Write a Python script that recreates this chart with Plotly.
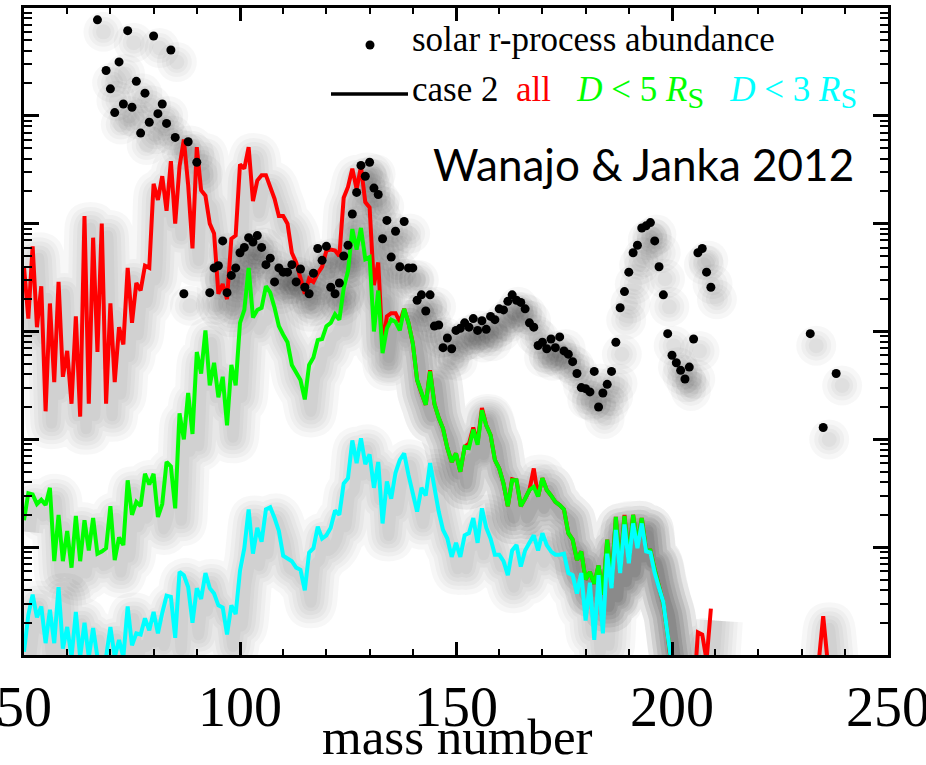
import numpy as np
import plotly.graph_objects as go

# ---------------- data (log10 of abundance / mass fraction) ----------------
A_red = list(range(50, 237))
red_log = [
    -5.40, -5.88, -5.21, -5.96, -5.58, -6.74, -5.74, -6.47, -5.54, -6.42,   # 50-59
    -6.18, -6.67, -5.86, -6.79, -4.93, -6.67, -5.13, -6.19, -5.00, -6.67,   # 60-69
    -5.74, -6.47, -5.96, -6.12, -5.41, -5.92, -5.55, -5.62, -5.39, -5.41,   # 70-79
    -4.63, -4.78, -4.56, -4.88, -4.42, -5.00, -4.47, -4.22, -4.64, -5.23,   # 80-89
    -4.29, -4.69, -4.74, -5.00, -5.09, -5.65, -5.56, -5.70, -5.14, -5.11,   # 90-99
    -4.45, -4.49, -4.29, -4.79, -4.60, -4.55, -4.55, -4.66, -4.77, -4.93,   # 100-109
    -4.93, -5.00, -5.27, -5.36, -5.49, -5.65, -5.51, -5.54, -5.46, -5.40,   # 110-119
    -5.25, -5.24, -5.25, -5.30, -4.76, -4.66, -4.49, -4.68, -4.47, -4.80,   # 120-129
    -4.85, -5.57, -5.36, -6.13, -5.86, -5.83, -5.83, -5.91, -5.79, -5.92,   # 130-139
    -6.11, -6.45, -6.57, -6.68, -6.36, -6.67, -6.80, -6.90, -7.08, -7.21,   # 140-149
    -7.13, -7.30, -7.07, -7.04, -6.89, -7.03, -6.71, -6.87, -6.96, -7.19,   # 150-159
    -7.27, -7.41, -7.62, -7.37, -7.38, -7.62, -7.55, -7.47, -7.27, -7.53,   # 160-169
    -7.36, -7.47, -7.52, -7.58, -7.61, -7.65, -7.87, -7.93, -8.12, -8.04,   # 170-179
    -8.30, -8.23, -8.34, -8.17, -8.44, -7.93, -8.35, -7.72, -8.21, -7.70,   # 180-189
    -8.12, -7.70, -7.98, -7.73, -8.03, -8.03, -8.21, -8.38, -8.52, -8.81,   # 190-199
    -9.10, -9.50, -9.50, -9.50, -9.50, -9.40, -8.79, -8.81, -9.05, -8.57,   # 200-209
    None, None, None, None, None, None, None, None, None, None,             # 210-219
    None, None, None, None, None, None, None, None, None, None,             # 220-229
    None, None, None, None, -9.05, -8.64, -9.05,                            # 230-236
]

A_green = list(range(50, 201))
green_log = [
    -7.75, -7.50, -7.51, -7.60, -7.56, -7.61, -7.45, -8.13, -7.70, -8.13,   # 50-59
    -7.85, -8.19, -7.71, -8.13, -7.75, -8.03, -7.73, -8.06, -8.04, -8.01,   # 60-69
    -7.62, -8.12, -7.91, -7.98, -7.38, -7.70, -7.58, -7.62, -7.32, -7.42,   # 70-79
    -7.32, -7.72, -7.60, -7.21, -7.25, -7.64, -6.76, -7.00, -6.57, -6.95,   # 80-89
    -6.19, -6.39, -5.99, -6.50, -6.29, -6.61, -6.42, -6.87, -6.31, -6.50,   # 90-99
    -5.92, -5.80, -5.41, -5.87, -5.80, -5.78, -5.58, -5.64, -5.78, -5.95,   # 100-109
    -6.03, -6.10, -6.31, -6.39, -6.45, -6.63, -6.31, -6.24, -6.08, -6.07,   # 110-119
    -5.95, -5.92, -5.84, -5.89, -5.60, -5.44, -5.05, -5.24, -5.04, -5.33,   # 120-129
    -5.31, -6.00, -5.62, -6.20, -5.97, -5.89, -5.91, -5.99, -5.79, -5.92,   # 130-139
    -6.11, -6.45, -6.57, -6.68, -6.37, -6.67, -6.80, -6.90, -7.08, -7.21,   # 140-149
    -7.13, -7.30, -7.07, -7.08, -6.91, -7.05, -6.73, -6.87, -6.96, -7.19,   # 150-159
    -7.27, -7.41, -7.62, -7.38, -7.38, -7.62, -7.55, -7.47, -7.44, -7.53,   # 160-169
    -7.36, -7.47, -7.52, -7.58, -7.61, -7.65, -7.87, -7.93, -8.12, -8.04,   # 170-179
    -8.30, -8.23, -8.34, -8.17, -8.44, -7.93, -8.35, -7.72, -8.21, -7.71,   # 180-189
    -8.12, -7.70, -7.98, -7.73, -8.03, -8.03, -8.21, -8.38, -8.52, -8.81,   # 190-199
    -9.10,                                                                  # 200
]

A_cyan = list(range(50, 201))
cyan_log = [
    -8.97, -8.63, -8.44, -8.65, -8.55, -8.89, -8.58, -8.89, -8.37, -8.94,   # 50-59
    -8.74, -9.02, -8.60, -9.02, -8.70, -9.02, -8.75, -9.02, -9.05, -9.02,   # 60-69
    -8.74, -9.02, -8.86, -9.02, -8.55, -8.91, -8.80, -8.81, -8.66, -8.77,   # 70-79
    -8.60, -8.80, -8.61, -8.45, -8.46, -8.84, -8.23, -8.26, -8.37, -8.70,   # 80-89
    -8.38, -8.48, -8.24, -8.38, -8.43, -8.54, -8.56, -8.81, -8.54, -8.62,   # 90-99
    -8.22, -8.01, -7.65, -8.06, -7.82, -7.95, -7.65, -7.63, -7.73, -7.85,   # 100-109
    -8.08, -8.11, -8.13, -8.19, -8.21, -8.40, -8.05, -8.01, -7.81, -7.92,   # 110-119
    -7.89, -7.82, -7.66, -7.70, -7.41, -7.36, -7.01, -7.22, -6.99, -7.23,   # 120-129
    -7.14, -7.45, -7.21, -7.78, -7.39, -7.55, -7.31, -7.19, -7.13, -7.33,   # 130-139
    -7.50, -7.67, -7.45, -7.52, -7.22, -7.47, -7.67, -7.84, -7.92, -8.09,   # 140-149
    -7.96, -8.09, -7.89, -7.87, -7.73, -7.96, -7.64, -7.82, -7.92, -8.07,   # 150-159
    -8.07, -8.13, -8.26, -8.03, -7.98, -8.18, -8.03, -7.96, -7.89, -8.03,   # 160-169
    -7.87, -7.98, -8.04, -8.07, -8.07, -8.06, -8.24, -8.26, -8.43, -8.24,   # 170-179
    -8.68, -8.33, -8.86, -8.26, -8.80, -8.06, -8.38, -7.84, -8.24, -7.79,   # 180-189
    -8.15, -7.78, -8.01, -7.78, -8.04, -8.05, -8.24, -8.38, -8.51, -8.81,   # 190-199
    -9.10,                                                                  # 200
]

solar_A = [
    67, 69, 70, 71, 72, 73, 74, 75, 76, 77, 78, 79, 80, 81, 82, 83, 84, 85, 87, 88, 90,
    93, 94, 95, 96, 97, 98, 99,
    100, 101, 102, 103, 104, 105, 106, 107, 108, 109,
    110, 111, 112, 113, 114, 115, 116, 117, 118, 119,
    120, 121, 122, 123, 124, 125, 126, 127, 128, 129,
    130, 131, 132, 133, 134, 135, 136, 137, 138, 139,
    140, 141, 142, 143, 144, 145, 146, 147, 148, 149,
    150, 151, 152, 153, 154, 155, 156, 157, 158, 159,
    160, 161, 162, 163, 164, 165, 166, 167, 168, 169,
    170, 171, 172, 173, 174, 175, 176, 177, 178, 179,
    180, 181, 182, 183, 184, 185, 186, 187, 188, 189,
    190, 191, 192, 193, 194, 195, 196, 197, 198, 199,
    200, 201, 202, 203, 204, 205, 206, 207, 208, 209,
    232, 235, 238,
]
solar_log = [
    -3.11, -3.58, -3.75, -3.97, -3.50, -3.89, -3.21, -3.92, -3.68, -4.16, -3.79, -4.06,
    -3.26, -3.98, -3.89, -4.07, -3.39, -4.20, -5.65, -4.24, -4.43,
    -5.64, -5.41, -5.39, -5.16, -5.64, -5.48, -5.41,
    -5.27, -5.22, -5.13, -5.17, -5.11, -5.22, -5.38, -5.32, -5.54, -5.41,
    -5.45, -5.45, -5.38, -5.54, -5.42, -5.59, -5.65, -5.46, -5.23, -5.34,
    -5.21, -5.59, -5.65, -5.55, -5.30, -5.20, -4.91, -4.71, -4.46, -4.56,
    -4.43, -4.67, -4.73, -5.14, -4.97, -5.31, -5.07, -5.40, -4.98, -5.41,
    -5.41, -5.71, -5.66, -5.81, -5.66, -5.95, -5.94, -6.15, -6.06, -6.16,
    -5.99, -5.97, -5.92, -5.96, -5.88, -5.99, -5.90, -5.98, -5.86, -5.89,
    -5.79, -5.80, -5.72, -5.66, -5.71, -5.73, -5.79, -5.92, -5.96, -6.13,
    -6.10, -6.16, -6.07, -6.15, -6.05, -6.18, -6.21, -6.28, -6.39, -6.52,
    -6.53, -6.56, -6.37, -6.70, -6.57, -6.49, -6.37, -6.10, -5.78, -5.63,
    -5.45, -5.27, -5.20, -5.04, -5.02, -4.99, -5.16, -5.40, -5.66, -6.02,
    -6.22, -6.29, -6.36, -6.44, -6.33, -6.07, -5.27, -5.23, -5.45, -5.59,
    -6.02, -6.89, -6.39,
]

x_ticks = [50, 100, 150, 200, 250]
x_range = [50, 250]
log_range = [-9, -3]


def to_abund(vals):
    arr = np.array([np.nan if v is None else v for v in vals], dtype=float)
    return np.power(10.0, arr)


RED = "#ff0000"
GREEN = "#00ff00"
CYAN = "#00ffff"
SERIF = "Liberation Serif, Times New Roman, serif"

fig = go.Figure()

# soft drop shadow: same data on a hidden base axis pair whose ranges are shifted
# a little, so the halo sits slightly right of and below the visible curves
SH = "rgba(0,0,0,0.03)"
series = [(A_red, red_log), (A_green, green_log), (A_cyan, cyan_log)]
for xs, ys in series:
    for w in (52, 42, 34, 26, 18, 11):
        fig.add_trace(go.Scatter(x=xs, y=to_abund(ys), mode="lines",
                                 line=dict(color=SH, width=w, shape="spline", smoothing=0.6),
                                 hoverinfo="skip", showlegend=False, xaxis="x", yaxis="y"))
for s in (40, 30, 22, 15):
    fig.add_trace(go.Scatter(x=solar_A, y=to_abund(solar_log), mode="markers",
                             marker=dict(color=SH, size=s, line=dict(width=0)),
                             hoverinfo="skip", showlegend=False, xaxis="x", yaxis="y"))

# real curves on the visible axes
fig.add_trace(go.Scatter(x=A_red, y=to_abund(red_log), mode="lines",
                         line=dict(color=RED, width=4), name="all",
                         connectgaps=False, showlegend=False, xaxis="x2", yaxis="y2"))
fig.add_trace(go.Scatter(x=A_green, y=to_abund(green_log), mode="lines",
                         line=dict(color=GREEN, width=4), name="D < 5 R_S",
                         showlegend=False, xaxis="x2", yaxis="y2"))
fig.add_trace(go.Scatter(x=A_cyan, y=to_abund(cyan_log), mode="lines",
                         line=dict(color=CYAN, width=4), name="D < 3 R_S",
                         showlegend=False, xaxis="x2", yaxis="y2"))
fig.add_trace(go.Scatter(x=solar_A, y=to_abund(solar_log), mode="markers",
                         marker=dict(color="black", size=9), name="solar r-process abundance",
                         showlegend=False, xaxis="x2", yaxis="y2"))

# ---------------- layout ----------------
L, R, T, B = 24, 38, 8, 110
W, H = 926, 765
pw, ph = W - L - R, H - T - B


def px_x(x):
    return (x - L) / pw


def px_y(y):
    return (H - B - y) / ph


dx_units = 6 / (pw / (x_range[1] - x_range[0]))          # ~6 px to the right
dy_dec = 12 / (ph / (log_range[1] - log_range[0]))        # ~12 px downwards

fig.update_layout(
    width=W, height=H,
    margin=dict(l=L, r=R, t=T, b=B, autoexpand=False),
    paper_bgcolor="white", plot_bgcolor="white",
    showlegend=False,
    font=dict(family=SERIF, color="black"),
    xaxis=dict(range=[x_range[0] - dx_units, x_range[1] - dx_units], visible=False,
               showgrid=False, zeroline=False, automargin=False),
    yaxis=dict(type="log", range=[log_range[0] + dy_dec, log_range[1] + dy_dec],
               visible=False, showgrid=False, zeroline=False, automargin=False),
    xaxis2=dict(
        overlaying="x", anchor="y2", side="bottom", automargin=False,
        range=x_range, tickvals=x_ticks, ticktext=[str(v) for v in x_ticks],
        ticks="inside", ticklen=13, tickwidth=2.5, tickcolor="black",
        showline=True, linewidth=3, linecolor="black", mirror="ticks",
        showgrid=False, zeroline=False,
        tickfont=dict(family=SERIF, size=56, color="black"),
        ticklabelstandoff=1, ticklabeloverflow="allow",
        minor=dict(ticks="inside", ticklen=6, tickwidth=2, tickcolor="black",
                   dtick=10, tick0=50, showgrid=False),
    ),
    yaxis2=dict(
        overlaying="y", anchor="x2", side="left", automargin=False,
        type="log", range=log_range, dtick=1,
        ticks="inside", ticklen=15, tickwidth=2.5, tickcolor="black",
        showticklabels=False,
        showline=True, linewidth=3, linecolor="black", mirror="ticks",
        showgrid=False, zeroline=False,
        minor=dict(ticks="inside", ticklen=8, tickwidth=2, tickcolor="black",
                   dtick="D1", showgrid=False),
    ),
)

# legend-like key drawn in paper space
fig.add_shape(type="circle", xref="paper", yref="paper",
              x0=px_x(365.5), x1=px_x(374.5), y0=px_y(49.5), y1=px_y(40.5),
              fillcolor="black", line=dict(color="black", width=0))
fig.add_shape(type="line", xref="paper", yref="paper",
              x0=px_x(331), x1=px_x(408), y0=px_y(94), y1=px_y(94),
              line=dict(color="black", width=3.5))

fig.add_annotation(xref="paper", yref="paper", x=px_x(410), y=px_y(40),
                   xanchor="left", yanchor="middle", showarrow=False,
                   text="solar r-process abundance",
                   font=dict(family=SERIF, size=35, color="black"))
SUB = "<sub><span style='font-size:30px'>S</span></sub>"
legend2 = ("case 2&nbsp;&nbsp;<span style='color:%s'>all</span>&nbsp;&nbsp;&nbsp;"
           "<span style='color:%s'><i>D</i> &lt; 5 <i>R</i>%s</span>&nbsp;&nbsp;&nbsp;"
           "<span style='color:%s'><i>D</i> &lt; 3 <i>R</i>%s</span>") % (RED, GREEN, SUB, CYAN, SUB)
fig.add_annotation(xref="paper", yref="paper", x=px_x(410), y=px_y(92),
                   xanchor="left", yanchor="middle", showarrow=False,
                   text=legend2,
                   font=dict(family=SERIF, size=35, color="black"))
fig.add_annotation(xref="paper", yref="paper", x=px_x(431), y=px_y(164),
                   xanchor="left", yanchor="middle", showarrow=False,
                   text="Wanajo &amp; Janka 2012",
                   font=dict(family="Lato, Open Sans, sans-serif", size=44, color="black"))
fig.add_annotation(xref="paper", yref="paper", x=px_x(458), y=px_y(737),
                   xanchor="center", yanchor="middle", showarrow=False,
                   text="mass number",
                   font=dict(family=SERIF, size=51, color="black"))

fig.write_html("out.html")
